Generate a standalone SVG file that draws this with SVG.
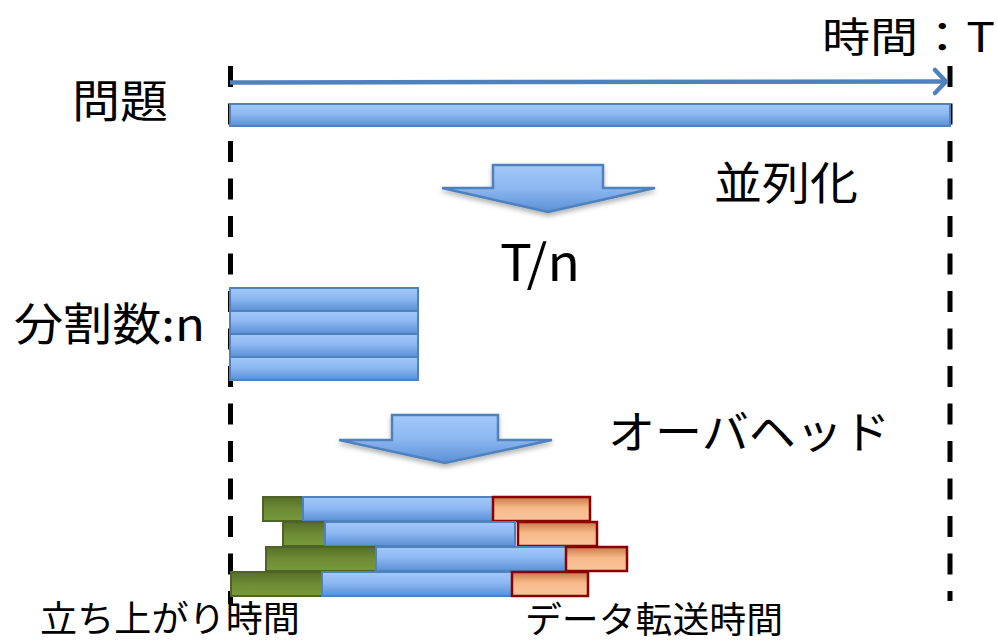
<svg xmlns="http://www.w3.org/2000/svg" width="998" height="644" viewBox="0 0 998 644">
<style>
text{font-family:"Noto Sans CJK JP","Noto Sans",sans-serif;fill:#000}
.lbl{font-size:45px}
.sm{font-size:36px}
.blue{fill:url(#gBlue);stroke:#4F81BD;stroke-width:2}
.green{fill:url(#gGreen);stroke:#4F6228;stroke-width:2}
.orange{fill:url(#gOrange);stroke:#8B0000;stroke-width:2.5}
.guide{stroke:#000;stroke-width:5;stroke-dasharray:21 16.5;fill:none}
.barrow{fill:url(#gArrow);stroke:#4F81BD;stroke-width:2.5;filter:url(#sh)}
</style>
<defs>
<linearGradient id="gBlue" x1="0" y1="0" x2="0" y2="1">
<stop offset="0" stop-color="#A3C9FA"/><stop offset="0.45" stop-color="#8DB8F2"/><stop offset="1" stop-color="#5A8FD6"/>
</linearGradient>
<linearGradient id="gArrow" x1="0" y1="0" x2="0" y2="1">
<stop offset="0" stop-color="#A3C9FA"/><stop offset="0.5" stop-color="#8CB7F1"/><stop offset="1" stop-color="#5A8FD6"/>
</linearGradient>
<linearGradient id="gGreen" x1="0" y1="0" x2="0" y2="1">
<stop offset="0" stop-color="#566F28"/><stop offset="0.5" stop-color="#6E8B35"/><stop offset="1" stop-color="#779A3A"/>
</linearGradient>
<linearGradient id="gOrange" x1="0" y1="0" x2="0" y2="1">
<stop offset="0" stop-color="#C97A45"/><stop offset="0.45" stop-color="#F6B98A"/><stop offset="1" stop-color="#FAC69C"/>
</linearGradient>
<filter id="sh" x="-10%" y="-10%" width="120%" height="140%">
<feDropShadow dx="0" dy="3" stdDeviation="2.5" flood-color="#000" flood-opacity="0.3"/>
</filter>
</defs>

<g id="guides">
<line class="guide" x1="230.5" y1="66" x2="230.5" y2="604"/>
<line class="guide" x1="950" y1="66" x2="950" y2="601"/>
</g>

<g id="connectors">
<line x1="230" y1="82.5" x2="945" y2="81.5" stroke="#4F81BD" stroke-width="4.5"/>
<polyline points="935,70 946,81.5 935,93" fill="none" stroke="#4F81BD" stroke-width="4.5" stroke-linecap="round" stroke-linejoin="round"/>
</g>

<g id="time-label"><text x="822" y="52" font-size="41" textLength="173" lengthAdjust="spacingAndGlyphs">時間：T</text></g>

<g id="problem">
<text class="lbl" x="72" y="118" textLength="96" lengthAdjust="spacingAndGlyphs">問題</text>
<rect class="blue" x="230" y="104" width="720" height="22"/>
</g>

<g id="parallel-arrow">
<polygon class="barrow" points="493,165 603,165 603,188 655,188 548,212 442,188 493,188"/>
<text class="lbl" x="714" y="200" textLength="144" lengthAdjust="spacingAndGlyphs">並列化</text>
</g>

<g id="t-over-n"><text x="500" y="281" font-size="50" textLength="80" lengthAdjust="spacingAndGlyphs">T/n</text></g>

<g id="split">
<text class="lbl" x="14" y="341" textLength="191" lengthAdjust="spacingAndGlyphs">分割数:n</text>
<rect class="blue" x="230" y="288" width="188" height="23"/>
<rect class="blue" x="230" y="311" width="188" height="23"/>
<rect class="blue" x="230" y="334" width="188" height="23"/>
<rect class="blue" x="230" y="357" width="188" height="23"/>
</g>

<g id="overhead-arrow">
<polygon class="barrow" points="392,415 498,415 498,440 552,440 445,463 339,440 392,440"/>
<text class="lbl" x="608" y="449" textLength="282" lengthAdjust="spacingAndGlyphs">オーバヘッド</text>
</g>

<g id="overhead-bars">
<rect class="green" x="263" y="497" width="40" height="24"/>
<rect class="blue" x="303" y="497" width="190" height="24"/>
<rect class="orange" x="493" y="497" width="97" height="24"/>
<rect class="green" x="283" y="522" width="42" height="24"/>
<rect class="blue" x="325" y="522" width="190" height="24"/>
<rect class="orange" x="518" y="522" width="79" height="24"/>
<rect class="green" x="266" y="547" width="110" height="24"/>
<rect class="blue" x="376" y="547" width="190" height="24"/>
<rect class="orange" x="566" y="547" width="61" height="24"/>
<rect class="green" x="231" y="572" width="91" height="24"/>
<rect class="blue" x="322" y="572" width="190" height="24"/>
<rect class="orange" x="512" y="572" width="76" height="24"/>
</g>

<g id="startup-label"><text class="sm" x="40" y="632" textLength="260" lengthAdjust="spacingAndGlyphs">立ち上がり時間</text></g>
<g id="transfer-label"><text class="sm" x="525" y="633" textLength="258" lengthAdjust="spacingAndGlyphs">データ転送時間</text></g>
</svg>
